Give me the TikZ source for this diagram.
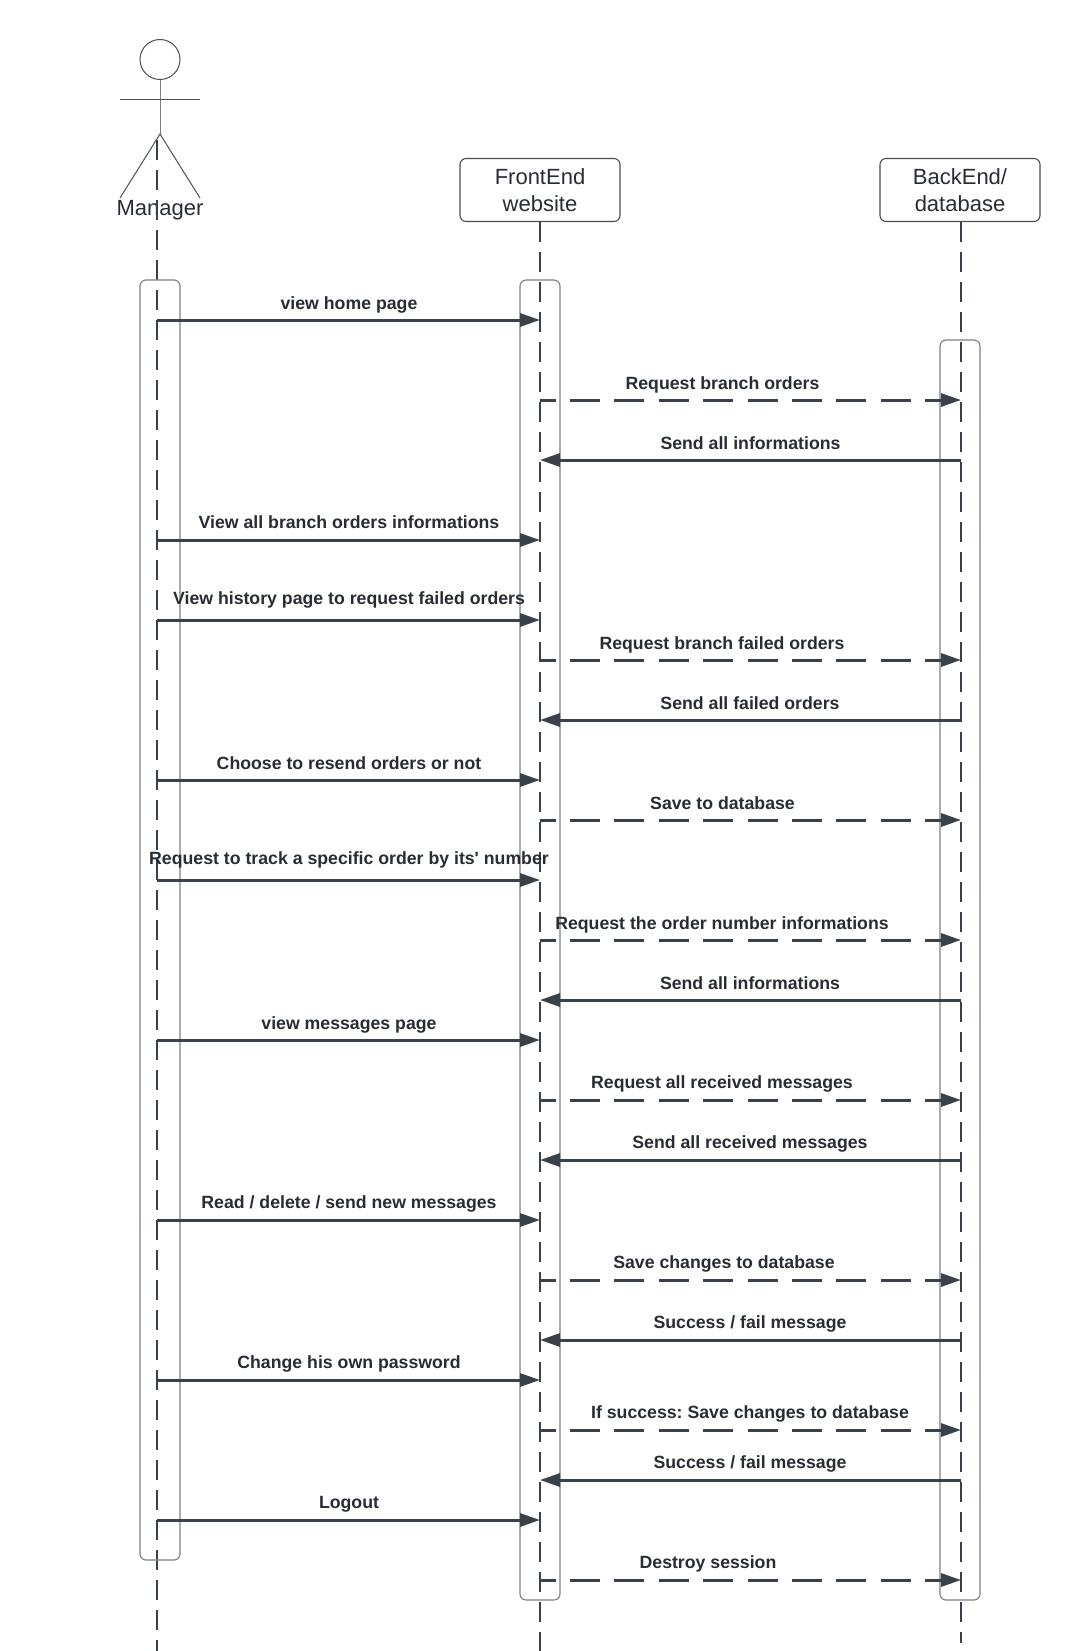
\documentclass[tikz,border=0pt]{standalone}
\usepackage{fontspec}
\setmainfont{Liberation Sans}
\newfontfamily\plainsans{Liberation Sans}
\usetikzlibrary{arrows.meta}
\definecolor{ink}{HTML}{3A414A}
\definecolor{txt}{HTML}{282C33}
\definecolor{edge}{HTML}{7C7F84}
\definecolor{boxedge}{HTML}{4A4E54}
\tikzset{
  lifeline/.style={draw=ink,line width=1.5pt,dash pattern=on 20pt off 10pt},
  actbar/.style={draw=edge,line width=1.1pt,rounded corners=6pt},
  headbox/.style={draw=boxedge,line width=1.1pt,rounded corners=6pt,minimum width=160pt,minimum height=63pt,inner sep=0pt,align=center,font=\fontsize{22}{26.7}\selectfont,text=txt},
  stick/.style={draw=boxedge,line width=1pt},
  tiphead/.tip={Triangle[length=20pt,width=13pt,fill=ink]},
  syncmsg/.style={draw=ink,line width=3pt,-{tiphead}},
  asyncmsg/.style={draw=ink,line width=3pt,-{tiphead},dash pattern=on 30pt off 14.4pt,dash phase=14.5pt},
  msglabel/.style={font=\plainsans\frenchspacing\bfseries\fontsize{17.7}{20}\selectfont,text=txt,inner sep=0pt,anchor=center},
}
% \rowmsg{id}{y}{style}{from x}{to x}{label x}{label y offset}{label}
\newcommand{\rowmsg}[8]{%
  \coordinate (#1s) at (#4,#2);
  \coordinate (#1e) at (#5,#2);
  \path[#3] (#1s) -- (#1e);
  \node[msglabel] (#1l) at (#6,#2+#7) {#8};
}
\def\xM{157}\def\xF{540}\def\xB{961}
\begin{document}
\begin{tikzpicture}[x=1pt,y=-1pt]
\useasboundingbox (0,0) rectangle (1079,1651);
\fill[white] (0,0) rectangle (1079,1651);
% header boxes
\node[headbox] (fe) at (540,190) {FrontEnd\\website};
\node[headbox] (be) at (960,190) {BackEnd/\\database};
% actor
\node[stick,circle,minimum size=40pt,inner sep=0pt] (head) at (160,59.5) {};
\coordinate (armL) at (120,99.5);
\coordinate (armR) at (200,99.5);
\coordinate (hip) at (160,134);
\coordinate (legL) at (120,198);
\coordinate (legR) at (200,198);
\draw[stick,draw=edge] (head.south) -- (hip);
\draw[stick] (armL) -- (armR);
\draw[stick] (legL) -- (hip) -- (legR);
\node[font=\fontsize{22}{26}\selectfont,text=txt,inner sep=0pt] (mgrlabel) at (160,210.5) {Manager};
% lifelines
\coordinate (mTop) at (\xM,140);
\coordinate (mEnd) at (\xM,1651);
\coordinate (fEnd) at (\xF,1651);
\coordinate (bTop) at (\xB,222);
\coordinate (bEnd) at (\xB,1643);
\draw[lifeline] (mTop) -- (mEnd);
\draw[lifeline] (fe.south) -- (fEnd);
\draw[lifeline] (bTop) -- (bEnd);
% activation bars
\node[actbar,minimum width=40pt,minimum height=1280pt,inner sep=0pt] (actM) at (160,920) {};
\node[actbar,minimum width=40pt,minimum height=1320pt,inner sep=0pt] (actF) at (540,940) {};
\node[actbar,minimum width=40pt,minimum height=1260pt,inner sep=0pt] (actB) at (960,970) {};
% messages
\rowmsg{a}{320}{syncmsg}{\xM}{\xF}{349}{-15.5}{view home page}
\rowmsg{b}{400}{asyncmsg}{\xF}{\xB}{722.5}{-15.5}{Request branch orders}
\rowmsg{c}{460}{syncmsg}{\xB}{\xF}{750.5}{-17}{Send all informations}
\rowmsg{d}{540}{syncmsg}{\xM}{\xF}{349}{-17.5}{View all branch orders informations}
\rowmsg{e}{620}{syncmsg}{\xM}{\xF}{349}{-20.5}{View history page to request failed orders}
\rowmsg{f}{660}{asyncmsg}{\xF}{\xB}{722}{-15.5}{Request branch failed orders}
\rowmsg{g}{720}{syncmsg}{\xB}{\xF}{750}{-17}{Send all failed orders}
\rowmsg{h}{780}{syncmsg}{\xM}{\xF}{349}{-17}{Choose to resend orders or not}
\rowmsg{i}{820}{asyncmsg}{\xF}{\xB}{722.5}{-17}{Save to database}
\rowmsg{j}{880}{syncmsg}{\xM}{\xF}{349}{-20.5}{Request to track a specific order by its' number}
\rowmsg{k}{940}{asyncmsg}{\xF}{\xB}{722}{-15.5}{Request the order number informations}
\rowmsg{l}{1000}{syncmsg}{\xB}{\xF}{750}{-17}{Send all informations}
\rowmsg{m}{1040}{syncmsg}{\xM}{\xF}{349}{-15}{view messages page}
\rowmsg{n}{1100}{asyncmsg}{\xF}{\xB}{722}{-16}{Request all received messages}
\rowmsg{o}{1160}{syncmsg}{\xB}{\xF}{750}{-16}{Send all received messages}
\rowmsg{p}{1220}{syncmsg}{\xM}{\xF}{349}{-16}{Read / delete / send new messages}
\rowmsg{q}{1280}{asyncmsg}{\xF}{\xB}{724}{-16}{Save changes to database}
\rowmsg{r}{1340}{syncmsg}{\xB}{\xF}{750}{-16}{Success / fail message}
\rowmsg{s}{1380}{syncmsg}{\xM}{\xF}{349}{-16}{Change his own password}
\rowmsg{t}{1430}{asyncmsg}{\xF}{\xB}{750}{-16}{If success: Save changes to database}
\rowmsg{u}{1480}{syncmsg}{\xB}{\xF}{750}{-16}{Success / fail message}
\rowmsg{v}{1520}{syncmsg}{\xM}{\xF}{349}{-15.5}{Logout}
\rowmsg{w}{1580}{asyncmsg}{\xF}{\xB}{708}{-16}{Destroy session}
\end{tikzpicture}
\end{document}
